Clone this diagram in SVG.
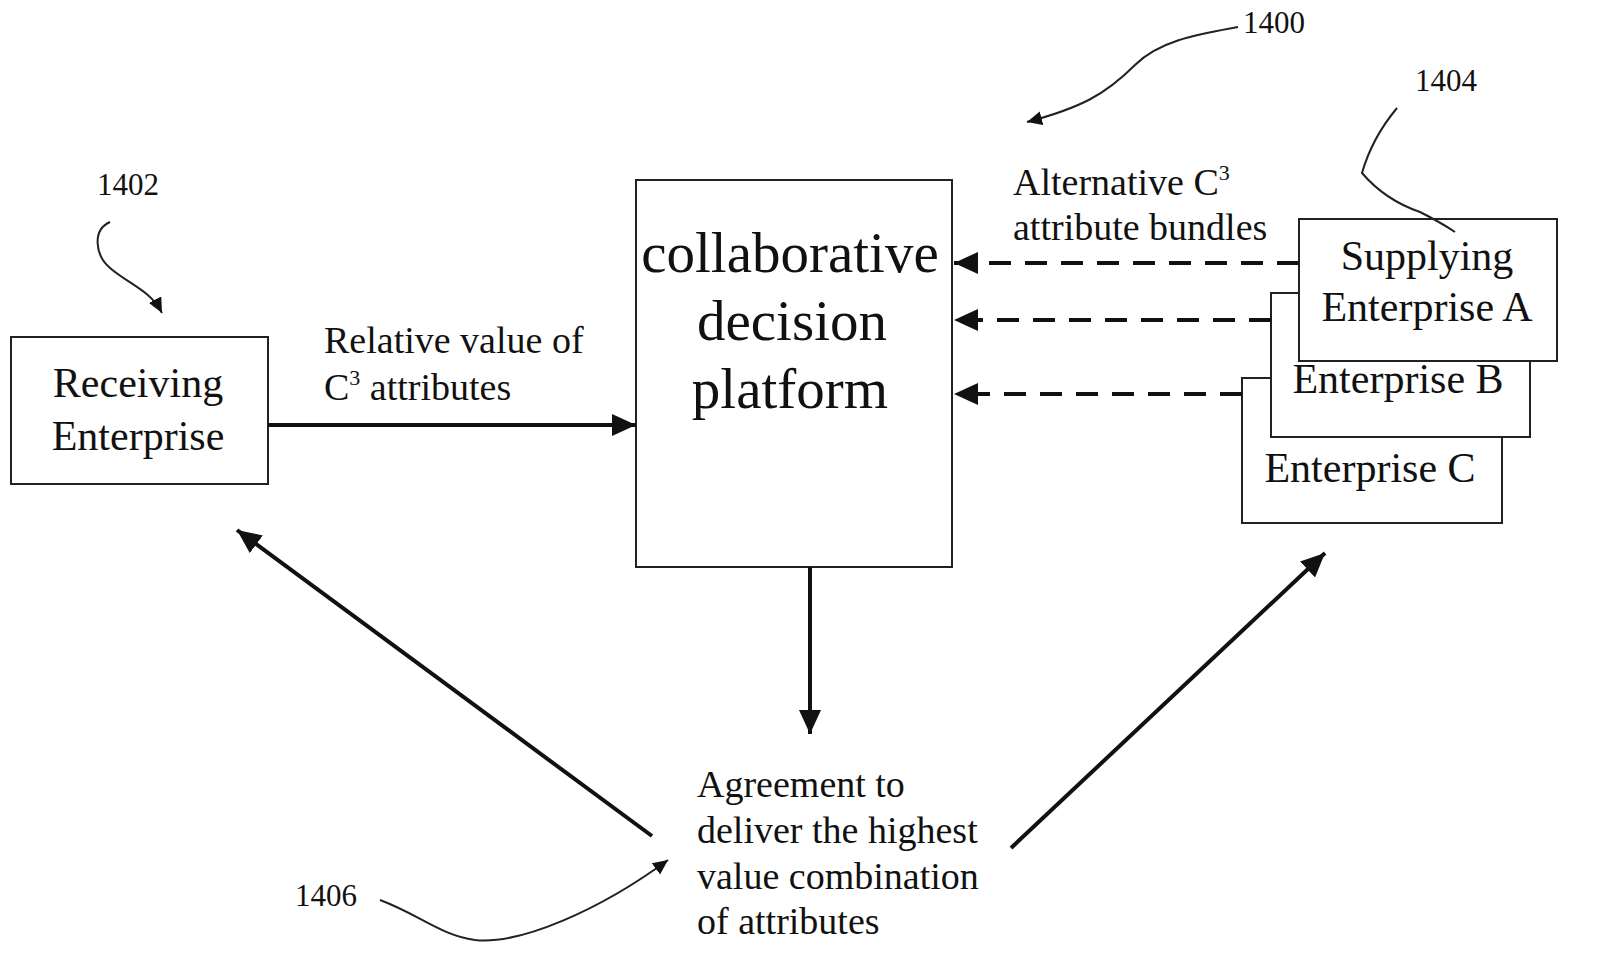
<svg xmlns="http://www.w3.org/2000/svg" width="1600" height="973" viewBox="0 0 1600 973">
<defs>
<style>
text{font-family:"Liberation Serif","Times New Roman",serif;fill:#111}
.big{font-size:42px;text-anchor:middle}
.huge{font-size:57px;text-anchor:middle}
.lab{font-size:38px}
.ref{font-size:31px}
.box{fill:#fff;stroke:#222;stroke-width:2}
.solid{stroke:#111;stroke-width:4;fill:none}
.dash{stroke:#111;stroke-width:4;fill:none;stroke-dasharray:22 14}
.lead{stroke:#222;stroke-width:2;fill:none}
</style>
<marker id="ah" markerUnits="userSpaceOnUse" markerWidth="26" markerHeight="22" refX="24" refY="11" orient="auto">
<path d="M0,0 L24,11 L0,22 Z" fill="#111"/>
</marker>
<marker id="ahs" markerUnits="userSpaceOnUse" markerWidth="16" markerHeight="14" refX="15" refY="7" orient="auto">
<path d="M0,0 L15,7 L0,14 Z" fill="#111"/>
</marker>
</defs>
<rect width="1600" height="973" fill="#fff"/>

<g id="ref-1400"><text class="ref" x="1243" y="33">1400</text></g>
<g id="ref-1404"><text class="ref" x="1415" y="91">1404</text></g>
<g id="ref-1402"><text class="ref" x="97" y="195">1402</text></g>
<g id="ref-1406"><text class="ref" x="295" y="906">1406</text></g>

<g id="receiving">
<rect class="box" x="11" y="337" width="257" height="147"/>
<text class="big" x="138" y="397">Receiving</text>
<text class="big" x="138" y="450">Enterprise</text>
</g>

<g id="platform">
<rect class="box" x="636" y="180" width="316" height="387"/>
<text class="huge" x="790" y="272">collaborative</text>
<text class="huge" x="792" y="340">decision</text>
<text class="huge" x="790" y="408">platform</text>
</g>

<g id="enterprise-c">
<rect class="box" x="1242" y="378" width="260" height="145"/>
<text class="big" x="1370" y="482">Enterprise C</text>
</g>
<g id="enterprise-b">
<rect class="box" x="1271" y="293" width="259" height="144"/>
<text class="big" x="1398" y="393">Enterprise B</text>
</g>
<g id="enterprise-a">
<rect class="box" x="1299" y="219" width="258" height="142"/>
<text class="big" x="1427" y="270">Supplying</text>
<text class="big" x="1427" y="321">Enterprise A</text>
</g>

<g id="label-relative">
<text class="lab" x="324" y="353">Relative value of</text>
<text class="lab" x="324" y="400">C<tspan font-size="22" dy="-15">3</tspan><tspan dy="15"> attributes</tspan></text>
</g>

<g id="label-alternative">
<text class="lab" x="1013" y="195">Alternative C<tspan font-size="22" dy="-15">3</tspan></text>
<text class="lab" x="1013" y="240">attribute bundles</text>
</g>

<g id="agreement">
<text class="lab" x="697" y="797">Agreement to</text>
<text class="lab" x="697" y="843">deliver the highest</text>
<text class="lab" x="697" y="889">value combination</text>
<text class="lab" x="697" y="934">of attributes</text>
</g>

<g id="connectors">
<line class="solid" x1="268" y1="425" x2="636" y2="425" marker-end="url(#ah)"/>
<line class="dash" x1="1299" y1="263" x2="954" y2="263" marker-end="url(#ah)"/>
<line class="dash" x1="1271" y1="320" x2="954" y2="320" marker-end="url(#ah)"/>
<line class="dash" x1="1242" y1="394" x2="954" y2="394" marker-end="url(#ah)"/>
<line class="solid" x1="810" y1="567" x2="810" y2="734" marker-end="url(#ah)"/>
<line class="solid" x1="652" y1="836" x2="237" y2="530" marker-end="url(#ah)"/>
<line class="solid" x1="1011" y1="848" x2="1325" y2="553" marker-end="url(#ah)"/>
<path class="lead" d="M1238,27 C1200,34 1160,40 1135,65 C1105,95 1080,108 1027,122" marker-end="url(#ahs)"/>
<path class="lead" d="M1397,108 Q1372,138 1362,173 Q1385,200 1420,212 Q1440,222 1455,232"/>
<path class="lead" d="M110,222 C92,230 95,255 110,268 C130,285 150,290 162,313" marker-end="url(#ahs)"/>
<path class="lead" d="M380,900 C420,915 440,935 475,940 C520,945 600,910 668,860" marker-end="url(#ahs)"/>
</g>
</svg>
